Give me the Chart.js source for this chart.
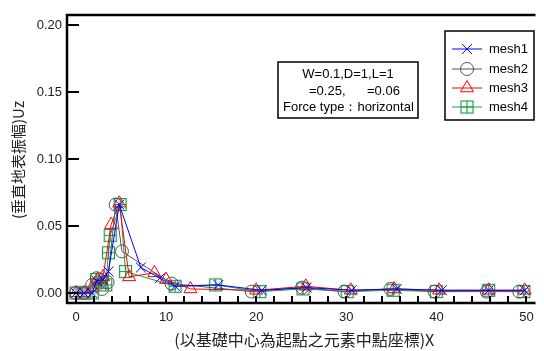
<!DOCTYPE html>
<html>
<head>
<meta charset="utf-8">
<script src="https://cdn.jsdelivr.net/npm/chart.js@4/dist/chart.umd.min.js"></script>
<style>
html,body{margin:0;padding:0;background:#fff;}
#wrap{width:544px;height:351px;}
</style>
</head>
<body>
<div id="wrap"><canvas id="c" width="544" height="351"></canvas></div>
<script>
// ---- data ----
const mesh1X = [0, 0.9, 1.8, 2.3, 3.0, 3.6, 4.8, 7.2, 9.3, 11.0, 15.8, 20.6, 25.6, 30.6, 35.6, 40.6, 45.8, 49.8];
const mesh1Y = [0, 0, 0, 0.009, 0.010, 0.016, 0.066, 0.019, 0.011, 0.005, 0.006, 0.002, 0.004, 0.002, 0.003, 0.002, 0.002, 0.002];

const mesh2X = [0, 0.9, 1.8, 2.3, 2.9, 3.5, 4.4, 5.1, 10.6, 19.5, 25.1, 29.8, 34.9, 39.8, 45.6, 49.2];
const mesh2Y = [0, 0, 0.006, 0.011, 0.003, 0.008, 0.066, 0.031, 0.007, 0.001, 0.004, 0.001, 0.003, 0.001, 0.001, 0.001];

const mesh3X = [0, 0.9, 1.8, 2.4, 3.0, 3.9, 4.8, 5.9, 8.7, 10.0, 12.7, 20.0, 25.5, 30.5, 35.3, 40.3, 45.8, 49.8];
const mesh3Y = [0, 0, 0.004, 0.010, 0.012, 0.051, 0.067, 0.012, 0.015, 0.010, 0.003, 0.002, 0.005, 0.002, 0.003, 0.002, 0.002, 0.002];

const mesh4X = [0, 0.9, 1.8, 2.3, 2.8, 3.3, 3.6, 3.8, 4.9, 5.5, 11.0, 15.5, 20.4, 25.2, 30.1, 35.2, 40.0, 45.8, 49.7];
const mesh4Y = [0, 0, 0, 0.010, 0.008, 0.006, 0.030, 0.043, 0.066, 0.016, 0.005, 0.006, 0.001, 0.003, 0.001, 0.002, 0.001, 0.002, 0.001];

const seriesNames = ['mesh1', 'mesh2', 'mesh3', 'mesh4'];
const xTickValues = [0, 10, 20, 30, 40, 50];
const yTickValues = [0, 0.05, 0.10, 0.15, 0.20];
const xMinorStep = 2;
const xTitle = '(以基礎中心為起點之元素中點座標)X';
const yTitle = '(垂直地表振幅)Uz';
const noteLines = ['W=0.1,D=1,L=1', '=0.25,', '=0.06', 'Force type：horizontal'];

function pts(xs, ys) { return xs.map((x, i) => ({x: x, y: ys[i]})); }

// square with plus marker
function makeSquarePlus(color) {
  const c = document.createElement('canvas');
  c.width = 15; c.height = 15;
  const g = c.getContext('2d');
  g.strokeStyle = color; g.lineWidth = 1.2;
  g.strokeRect(1.5, 1.5, 12, 12);
  g.beginPath();
  g.moveTo(7.5, 1.5); g.lineTo(7.5, 13.5);
  g.moveTo(1.5, 7.5); g.lineTo(13.5, 7.5);
  g.stroke();
  return c;
}
const greenCol = '#1f9a4a';
const sqPlus = makeSquarePlus(greenCol);

const styles = [
  {color: '#0000ff', pointStyle: 'crossRot', radius: 7},
  {color: '#555555', pointStyle: 'circle', radius: 6.5},
  {color: '#ff0000', pointStyle: 'triangle', radius: 7.5},
  {color: greenCol, pointStyle: sqPlus, radius: 7}
];
const allData = [pts(mesh1X, mesh1Y), pts(mesh2X, mesh2Y), pts(mesh3X, mesh3Y), pts(mesh4X, mesh4Y)];

const datasets = seriesNames.map((n, i) => ({
  label: n,
  data: allData[i],
  borderColor: styles[i].color,
  backgroundColor: 'rgba(0,0,0,0)',
  borderWidth: 1,
  pointStyle: styles[i].pointStyle,
  pointRadius: styles[i].radius,
  pointBorderColor: styles[i].color,
  pointBackgroundColor: 'rgba(0,0,0,0)',
  pointBorderWidth: 1,
  tension: 0
}));

const FONT = '"Liberation Sans", Arial, sans-serif';

const decor = {
  id: 'decor',
  afterDraw(chart) {
    const ctx = chart.ctx;
    const a = chart.chartArea;
    const xs = chart.scales.x, ys = chart.scales.y;
    ctx.save();
    // ticks (inside)
    ctx.strokeStyle = '#000';
    ctx.lineWidth = 2;
    ctx.beginPath();
    for (let v = 0; v <= 50; v += xMinorStep) {
      const px = Math.round(xs.getPixelForValue(v));
      ctx.moveTo(px, a.bottom); ctx.lineTo(px, a.bottom - 7);
    }
    yTickValues.forEach(v => {
      const py = Math.round(ys.getPixelForValue(v));
      ctx.moveTo(a.left, py); ctx.lineTo(a.left + 12, py);
    });
    ctx.stroke();
    // frame
    ctx.lineWidth = 2.5;
    ctx.beginPath();
    ctx.moveTo(a.right, a.top); ctx.lineTo(a.left, a.top);
    ctx.lineTo(a.left, a.bottom); ctx.lineTo(a.right, a.bottom);
    ctx.stroke();

    // axis titles
    ctx.fillStyle = '#222';
    ctx.font = '16px "Noto Sans CJK TC", ' + FONT;
    ctx.textAlign = 'center';
    ctx.textBaseline = 'middle';
    ctx.fillText(xTitle, (a.left + a.right) / 2 + 3, 340);
    ctx.save();
    ctx.translate(18, 160);
    ctx.rotate(-Math.PI / 2);
    ctx.font = '15px "Noto Sans CJK TC", ' + FONT;
    ctx.fillText(yTitle, 0, 0);
    ctx.restore();

    // note box
    ctx.lineWidth = 1.5;
    ctx.strokeStyle = '#000';
    ctx.strokeRect(278, 62, 140, 56);
    ctx.fillStyle = '#000';
    ctx.font = '13px ' + FONT;
    ctx.textAlign = 'center';
    ctx.fillText(noteLines[0], 348, 74);
    ctx.textAlign = 'left';
    ctx.fillText(noteLines[1], 309, 91);
    ctx.fillText(noteLines[2], 367, 91);
    ctx.fillText(noteLines[3], 283, 107);

    // legend
    ctx.strokeRect(445, 31, 89, 89);
    const rows = [49, 69, 88, 107];
    chart.data.datasets.forEach((ds, i) => {
      const y = rows[i];
      ctx.strokeStyle = ds.borderColor;
      ctx.lineWidth = 1;
      ctx.beginPath();
      ctx.moveTo(452, y); ctx.lineTo(482, y);
      ctx.stroke();
      ctx.fillStyle = 'rgba(0,0,0,0)';
      ctx.strokeStyle = ds.borderColor;
      Chart.helpers.drawPoint(ctx, {
        pointStyle: ds.pointStyle, radius: ds.pointRadius, rotation: 0, borderWidth: 1
      }, 467, y);
      ctx.fillStyle = '#000';
      ctx.font = '13px ' + FONT;
      ctx.textAlign = 'left';
      ctx.textBaseline = 'middle';
      ctx.fillText(ds.label, 489, y);
    });
    ctx.restore();
  }
};

new Chart(document.getElementById('c'), {
  type: 'line',
  data: {datasets: datasets},
  options: {
    responsive: false,
    animation: false,
    layout: {padding: {top: 15, right: 0, left: 0, bottom: 0}},
    plugins: {legend: {display: false}, tooltip: {enabled: false}},
    scales: {
      x: {
        type: 'linear',
        min: -1, max: 51,
        grid: {display: false, drawTicks: false},
        border: {display: false},
        afterBuildTicks: s => { s.ticks = xTickValues.map(v => ({value: v})); },
        afterFit: s => { s.height = 48; },
        ticks: {color: '#222', font: {family: FONT, size: 13}, padding: 7, maxRotation: 0,
          callback: v => String(v)}
      },
      y: {
        type: 'linear',
        min: -0.0075, max: 0.2075,
        grid: {display: false, drawTicks: false},
        border: {display: false},
        afterBuildTicks: s => { s.ticks = yTickValues.map(v => ({value: v})); },
        afterFit: s => { s.width = 67; },
        ticks: {color: '#222', font: {family: FONT, size: 13}, padding: 5,
          callback: v => Number(v).toFixed(2)}
      }
    }
  },
  plugins: [decor]
});
</script>
</body>
</html>
